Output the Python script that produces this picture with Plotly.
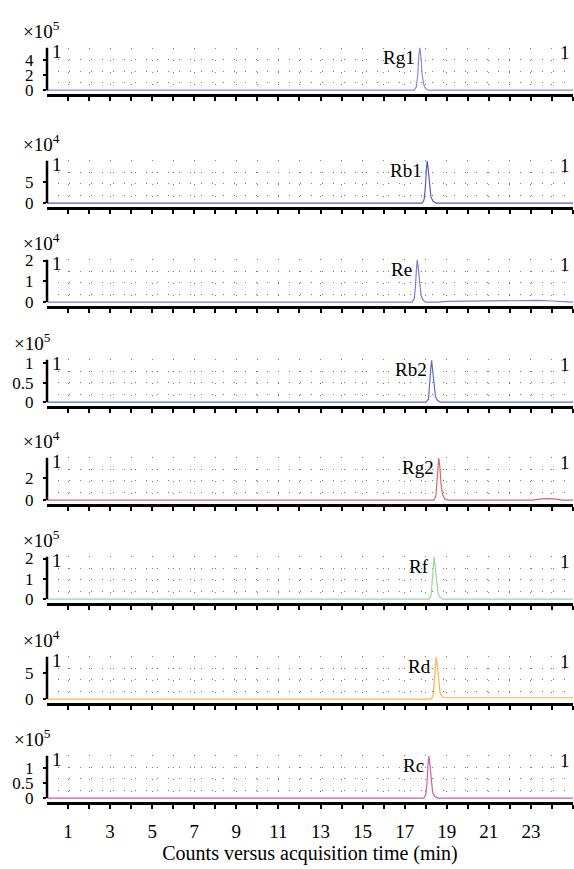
import plotly.graph_objects as go

# ---------------- data ----------------
compounds = ["Rg1", "Rb1", "Re", "Rb2", "Rg2", "Rf", "Rd", "Rc"]
exponents = [5, 4, 4, 5, 4, 5, 4, 5]
line_colors = ["#8a8ad6", "#5a5ac4", "#7d7dd0", "#5a6ed0", "#d06a6a", "#9ad69a", "#ffb24d", "#d45aa8"]
y_tick_vals = [[0, 2, 4], [0, 5], [0, 1, 2], [0, 0.5, 1], [0, 2], [0, 1, 2], [0, 5], [0, 0.5, 1]]
y_tick_text = [["0", "2", "4"], ["0", "5"], ["0", "1", "2"], ["0", "0.5", "1"],
               ["0", "2"], ["0", "1", "2"], ["0", "5"], ["0", "0.5", "1"]]
y_top = [5.7, 10.2, 2.05, 1.1, 3.8, 2.1, 8.2, 1.4]
peak_time = [17.72, 18.07, 17.6, 18.28, 18.62, 18.4, 18.5, 18.15]

x_ticks = list(range(1, 26))
x_tick_labels = ["1", "3", "5", "7", "9", "11", "13", "15", "17", "19", "21", "23"]

rg1_t = [0, 17.45, 17.55, 17.62, 17.67, 17.72, 17.77, 17.83, 17.9, 18.0, 18.15, 25]
rg1_y = [0, 0, 0.4, 2.0, 4.6, 5.7, 4.5, 2.1, 0.8, 0.2, 0, 0]
rb1_t = [0, 17.82, 17.92, 17.98, 18.03, 18.07, 18.12, 18.18, 18.25, 18.35, 18.5, 25]
rb1_y = [0, 0, 0.7, 3.5, 8.0, 10.1, 8.0, 3.8, 1.4, 0.4, 0, 0]
re_t = [0, 17.35, 17.45, 17.51, 17.56, 17.6, 17.65, 17.71, 17.78, 17.88, 18.0, 18.6,
        19.0, 20.0, 21.0, 22.0, 22.8, 23.4, 24.0, 24.4, 25]
re_y = [0, 0, 0.15, 0.7, 1.6, 2.03, 1.6, 0.8, 0.3, 0.08, 0, 0,
        0.03, 0.04, 0.05, 0.06, 0.09, 0.08, 0.05, 0.03, 0]
rb2_t = [0, 18.03, 18.13, 18.19, 18.24, 18.28, 18.33, 18.39, 18.46, 18.56, 18.7, 25]
rb2_y = [0, 0, 0.08, 0.4, 0.85, 1.08, 0.85, 0.42, 0.15, 0.04, 0, 0]
rg2_t = [0, 18.38, 18.48, 18.54, 18.59, 18.62, 18.67, 18.73, 18.8, 18.9, 19.05,
         23.1, 23.4, 23.8, 24.2, 24.5, 25]
rg2_y = [0, 0, 0.3, 1.5, 3.0, 3.75, 3.0, 1.4, 0.5, 0.12, 0,
         0, 0.08, 0.12, 0.08, 0, 0]
rf_t = [0, 18.15, 18.25, 18.31, 18.36, 18.4, 18.45, 18.51, 18.58, 18.68, 18.8, 25]
rf_y = [0, 0, 0.15, 0.8, 1.7, 2.08, 1.6, 0.8, 0.3, 0.08, 0, 0]
rd_t = [0, 18.25, 18.35, 18.41, 18.46, 18.5, 18.55, 18.61, 18.68, 18.78, 18.95,
        19.5, 21.0, 22.5, 24.0, 25]
rd_y = [0, 0, 0.6, 3.2, 6.6, 8.1, 6.5, 3.3, 1.3, 0.45, 0.25,
        0.25, 0.25, 0.27, 0.25, 0.25]
rc_t = [0, 17.9, 18.0, 18.06, 18.11, 18.15, 18.2, 18.26, 18.33, 18.43, 18.58, 25]
rc_y = [0, 0, 0.1, 0.5, 1.1, 1.38, 1.1, 0.52, 0.18, 0.05, 0, 0]

series_t = [rg1_t, rb1_t, re_t, rb2_t, rg2_t, rf_t, rd_t, rc_t]
series_y = [rg1_y, rb1_y, re_y, rb2_y, rg2_y, rf_y, rd_y, rc_y]

# ---------------- layout geometry ----------------
W, H = 574, 869
ML, MR, MT, MB = 47, 1, 0, 67
PW, PH = W - ML - MR, H - MT - MB
axis_px = [87, 201, 301, 402, 501, 601, 702, 802]   # bottom of each panel
panel_h = 47
below_zero = 0.093
grid_fracs = [0.18, 0.45, 0.72, 1.0]

FONT = "Liberation Serif"
FS = 19
YFS = 17
fig = go.Figure()
layout = dict(
    width=W, height=H,
    margin=dict(l=ML, r=MR, t=MT, b=MB),
    paper_bgcolor="white", plot_bgcolor="white",
    showlegend=False,
    font=dict(family=FONT, size=FS, color="black"),
)
annotations = []
shapes = []

for i, name in enumerate(compounds):
    k = i + 1
    xa = "x" if k == 1 else f"x{k}"
    ya = "y" if k == 1 else f"y{k}"
    bot = (PH - axis_px[i]) / PH
    top = (PH - axis_px[i] + panel_h) / PH
    last = (i == len(compounds) - 1)

    fig.add_trace(go.Scatter(
        x=series_t[i], y=series_y[i], mode="lines",
        line=dict(color=line_colors[i], width=1.2),
        xaxis=xa, yaxis=ya, hoverinfo="skip"))

    ticktext = []
    for v in x_ticks:
        ticktext.append(str(v) if (last and str(v) in x_tick_labels) else "")

    layout["xaxis" if k == 1 else f"xaxis{k}"] = dict(
        domain=[0, 1], anchor=ya, range=[0, 25],
        tickmode="array", tickvals=x_ticks, ticktext=ticktext,
        ticks="outside", ticklen=4, tickwidth=2, tickcolor="black",
        showline=True, linewidth=2.5, linecolor="black",
        showgrid=True, gridcolor="#777", gridwidth=1, griddash="1px,11px",
        zeroline=False, fixedrange=True,
        tickfont=dict(family=FONT, size=FS),
        ticklabelstandoff=6,
        title=dict(text="Counts versus acquisition time (min)",
                   font=dict(family=FONT, size=20), standoff=4) if last else None,
    )
    ymax = y_top[i]
    layout["yaxis" if k == 1 else f"yaxis{k}"] = dict(
        domain=[bot, top], anchor=xa, range=[-below_zero * ymax, ymax],
        tickmode="array", tickvals=y_tick_vals[i], ticktext=y_tick_text[i],
        ticks="outside", ticklen=3, tickwidth=2, tickcolor="black",
        showline=False, showgrid=False, zeroline=False, fixedrange=True,
        tickfont=dict(family=FONT, size=YFS),
        ticklabelstandoff=6,
        minor=dict(tickmode="array", tickvals=[f * ymax for f in grid_fracs],
                   ticks="", showgrid=True, gridcolor="#777", gridwidth=1,
                   griddash="1px,10px"),
    )
    # y axis line from 0 to top of range
    shapes.append(dict(type="line", xref=f"{xa} domain", yref=ya,
                       x0=0, x1=0, y0=0, y1=ymax,
                       line=dict(color="black", width=2.5)))
    # multiplier label
    has_half = "0.5" in y_tick_text[i]
    lx = ((12 if has_half else 21) - ML) / PW
    annotations.append(dict(xref=f"{xa} domain", yref=f"{ya} domain",
                            x=lx, y=1.38, xanchor="left", yanchor="middle",
                            text=f"×10<sup>{exponents[i]}</sup>", showarrow=False,
                            font=dict(family=FONT, size=FS)))
    # left / right "1"
    annotations.append(dict(xref=f"{xa} domain", yref=f"{ya} domain",
                            x=(50 - ML) / PW, y=0.91, xanchor="left", yanchor="middle",
                            text="1", showarrow=False, font=dict(family=FONT, size=FS)))
    annotations.append(dict(xref=f"{xa} domain", yref=f"{ya} domain",
                            x=(572 - ML) / PW, y=0.9, xanchor="right", yanchor="middle",
                            text="1", showarrow=False, font=dict(family=FONT, size=FS)))
    # compound label next to its peak
    annotations.append(dict(xref=xa, yref=f"{ya} domain",
                            x=peak_time[i], y=0.78, xanchor="right", yanchor="middle",
                            xshift=-3, text=name, showarrow=False,
                            font=dict(family=FONT, size=FS)))

layout["annotations"] = annotations
layout["shapes"] = shapes
fig.update_layout(**layout)
fig.write_html("out.html")
